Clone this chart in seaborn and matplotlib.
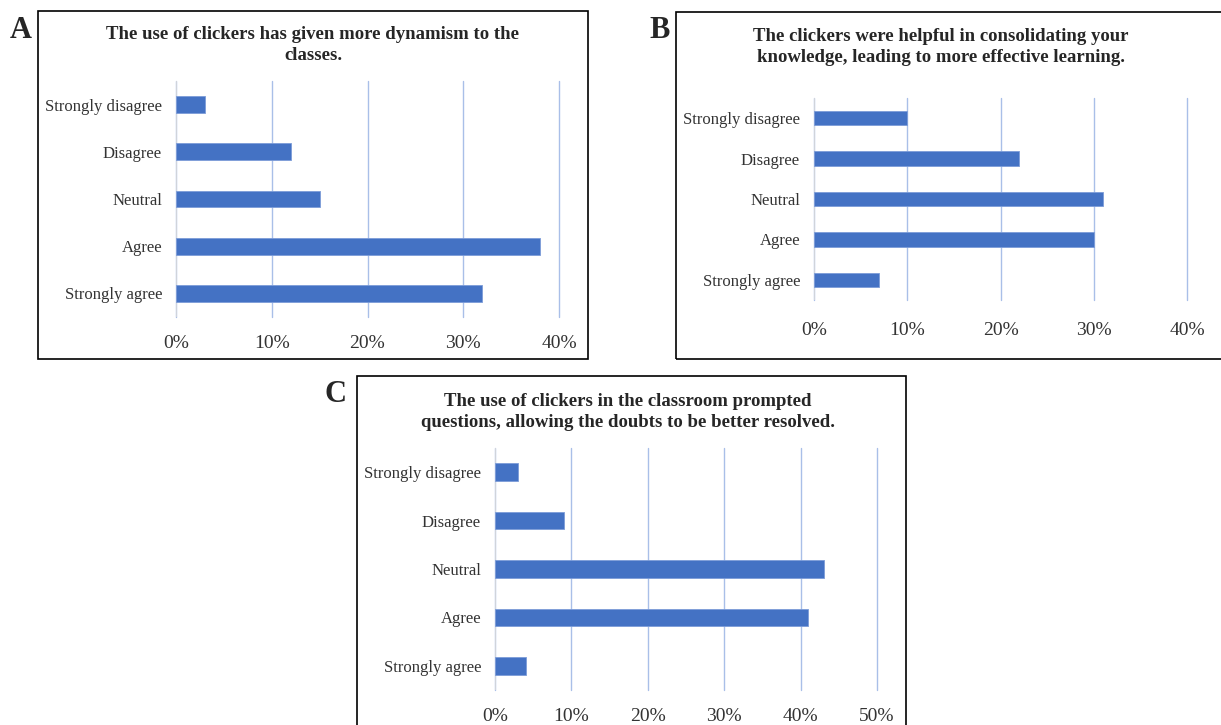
import matplotlib.pyplot as plt
import seaborn as sns
from matplotlib.patches import Rectangle

# Datos de las tres encuestas (porcentaje de respuestas)
categories = ['Strongly disagree', 'Disagree', 'Neutral', 'Agree', 'Strongly agree']
values_a = [3, 12, 15, 38, 32]
values_b = [10, 22, 31, 30, 7]
values_c = [3, 9, 43, 41, 4]

title_a = 'The use of clickers has given more dynamism to the\nclasses.'
title_b = 'The clickers were helpful in consolidating your\nknowledge, leading to more effective learning.'
title_c = 'The use of clickers in the classroom prompted\nquestions, allowing the doubts to be better resolved.'

ticks_ab = [0, 10, 20, 30, 40]
ticks_c = [0, 10, 20, 30, 40, 50]

sns.set_style('white')
plt.rcParams['font.family'] = ['Liberation Serif', 'DejaVu Serif']

W, H = 1221, 725
fig = plt.figure(figsize=(W / 100, H / 100), dpi=100)

BAR = '#4472C4'
GRID = '#A9BFE8'


def fx(px):
    return px / W


def fy(py):
    return 1 - py / H


def panel(letter, letter_xy, box, plot, title, title_xy, values, ticks, xpad):
    # marco del panel (en pixeles de la figura)
    x0, y0, x1, y1 = box
    fig.patches.append(Rectangle((fx(x0), fy(y1)), fx(x1) - fx(x0), fy(y0) - fy(y1),
                                 transform=fig.transFigure, fill=False,
                                 edgecolor='black', linewidth=1.2))
    fig.text(fx(letter_xy[0]), fy(letter_xy[1]), letter, fontsize=22,
             fontweight='bold', ha='center', va='center')
    fig.text(fx(title_xy[0]), fy(title_xy[1]), title, fontsize=13.5,
             fontweight='bold', ha='center', va='center', linespacing=1.25)

    l, t, r, b = plot
    ax = fig.add_axes([fx(l), fy(b), fx(r) - fx(l), fy(t) - fy(b)])
    sns.barplot(x=values, y=categories, orient='h', color=BAR, saturation=1,
                width=0.36, edgecolor='#7C9CD8', linewidth=0.6, ax=ax, zorder=3)
    ax.set_xlim(0, ticks[-1])
    ax.set_ylim(4.5, -0.5)
    ax.set_xticks(ticks)
    ax.set_xticklabels([f'{t}%' for t in ticks])
    ax.grid(axis='x', color=GRID, linewidth=1, zorder=0)
    ax.grid(axis='y', visible=False)
    for g in ax.get_xgridlines():
        g.set_clip_on(False)
    ax.axvline(0, color='#D9D9D9', linewidth=1.2, zorder=1)
    for s in ax.spines.values():
        s.set_visible(False)
    ax.tick_params(axis='x', length=0, pad=xpad, labelsize=14, colors='#333333')
    ax.tick_params(axis='y', length=0, pad=10, labelsize=12, colors='#333333')
    ax.set_xlabel('')
    ax.set_ylabel('')
    ax.patch.set_alpha(0)
    return ax


panel('A', (21, 31), (38, 11, 588, 359), (176, 81, 559, 317),
      title_a, (313, 45), values_a, ticks_ab, 13)
panel('B', (660, 31), (676, 12, 1240, 359), (814, 98, 1187, 300),
      title_b, (941, 47), values_b, ticks_ab, 15.5)
panel('C', (335, 394), (357, 376, 906, 740), (495, 448, 877, 690),
      title_c, (628, 412), values_c, ticks_c, 13)

plt.savefig('out.png', dpi=100)
